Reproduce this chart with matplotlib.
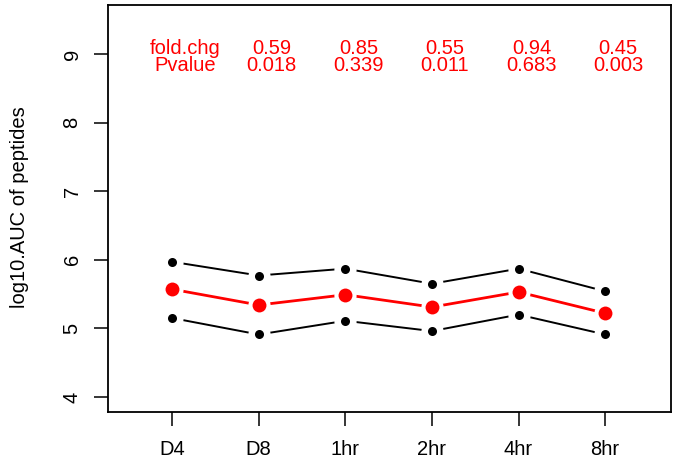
import matplotlib
matplotlib.use('Agg')
import matplotlib.pyplot as plt

plt.rcParams['font.family'] = ['Liberation Sans', 'DejaVu Sans']

# time points and log10 AUC values
labels = ['D4', 'D8', '1hr', '2hr', '4hr', '8hr']
upper = [5.97, 5.77, 5.87, 5.65, 5.87, 5.54]
mean = [5.57, 5.34, 5.49, 5.31, 5.53, 5.22]
lower = [5.15, 4.91, 5.11, 4.96, 5.20, 4.91]
fold_chg = ['0.59', '0.85', '0.55', '0.94', '0.45']
pvalue = ['0.018', '0.339', '0.011', '0.683', '0.003']

x = list(range(1, len(labels) + 1))
fs = 14.5

fig = plt.figure(figsize=(6.79, 4.66), dpi=100)
ax = fig.add_axes([108 / 679, 1 - 412 / 466, (671 - 108) / 679, (412 - 5) / 466])

# type="b" style: line, white halo, then point
for ys, col, lw, ms in [(upper, 'black', 1.4, 6.5), (lower, 'black', 1.4, 6.5),
                        (mean, 'red', 2.0, 10)]:
    ax.plot(x, ys, color=col, lw=lw, zorder=2)
    ax.plot(x, ys, 'o', color='white', ms=16, mew=0, zorder=3)
    ax.plot(x, ys, 'o', color=col, ms=ms, mew=0, zorder=4)

# fold change and p-value annotations
tx = [v + 0.15 for v in x]
ax.text(tx[0], 9.0, 'fold.chg', color='red', ha='center', va='baseline', fontsize=fs)
ax.text(tx[0], 8.75, 'Pvalue', color='red', ha='center', va='baseline', fontsize=fs)
for i in range(len(fold_chg)):
    ax.text(tx[i + 1], 9.0, fold_chg[i], color='red', ha='center', va='baseline', fontsize=fs)
    ax.text(tx[i + 1], 8.75, pvalue[i], color='red', ha='center', va='baseline', fontsize=fs)

ax.set_xlim(0.26, 6.76)
ax.set_ylim(3.78, 9.714)
ax.set_xticks(x)
ax.set_xticklabels(labels, fontsize=fs)
ax.set_yticks([4, 5, 6, 7, 8, 9])
ax.set_yticklabels(['4', '5', '6', '7', '8', '9'], fontsize=fs, rotation=90, va='center')
ax.tick_params(direction='out', length=10, width=1.1)
ax.tick_params(axis='x', pad=10)
ax.tick_params(axis='y', pad=9)
for s in ax.spines.values():
    s.set_linewidth(1.3)
fig.text(20 / 679, 1 - 207 / 466, 'log10.AUC of peptides', rotation=90,
         ha='center', va='center', fontsize=fs)

fig.savefig('out.png', dpi=100)
